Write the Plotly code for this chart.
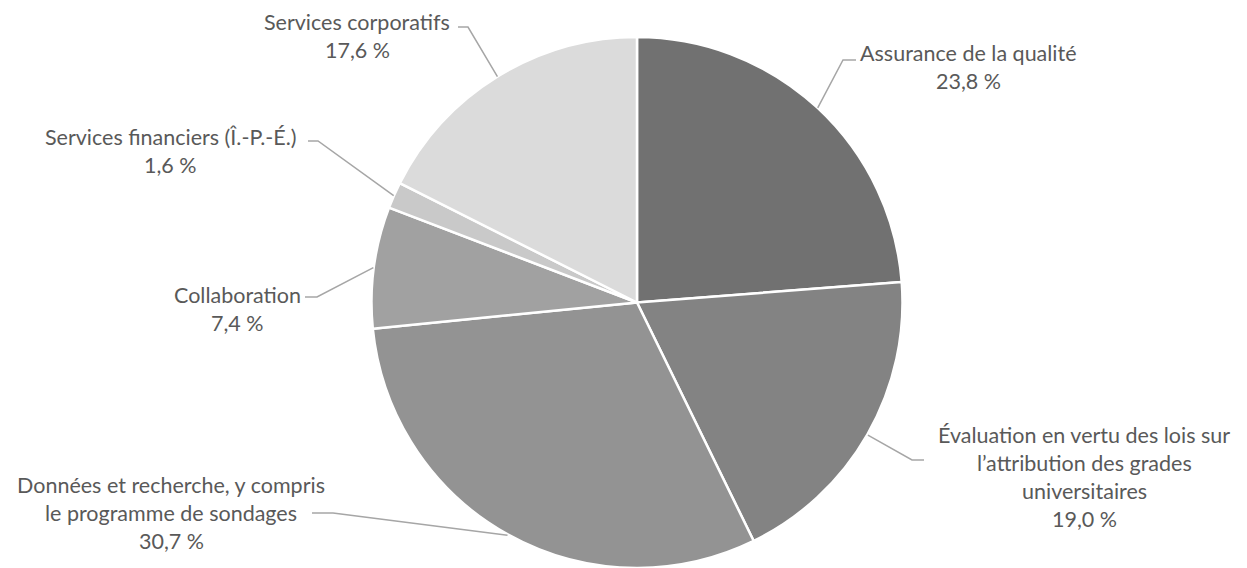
import math
import plotly.graph_objects as go

# ---- data ----
categories = [
    "Assurance de la qualité",
    "Évaluation en vertu des lois sur l’attribution des grades universitaires",
    "Données et recherche, y compris le programme de sondages",
    "Collaboration",
    "Services financiers (Î.-P.-É.)",
    "Services corporatifs",
]
values = [23.8, 19.0, 30.7, 7.4, 1.6, 17.6]
value_labels = ["23,8 %", "19,0 %", "30,7 %", "7,4 %", "1,6 %", "17,6 %"]
label_lines = [
    ["Assurance de la qualité"],
    ["Évaluation en vertu des lois sur", "l’attribution des grades", "universitaires"],
    ["Données et recherche, y compris", "le programme de sondages"],
    ["Collaboration"],
    ["Services financiers (Î.-P.-É.)"],
    ["Services corporatifs"],
]

# ---- styling / layout ----
colors = ["#717171", "#838383", "#939393", "#a1a1a1", "#c9c9c9", "#dbdbdb"]
W, H = 1247, 568
CX, CY, R = 637, 303, 266
TEXT_COLOR = "#595959"
LINE_COLOR = "#a6a6a6"
FONT = "Lato"
FSIZE = 21.5
LINE_H = 28

# label placement (pixels): text center x, first line y, leader elbow, leader end
label_pos = [
    dict(cx=968, y0=53, elbow=(843, 60), end=(856, 60)),
    dict(cx=1084, y0=435, elbow=(912, 460), end=(924, 460)),
    dict(cx=171, y0=485, elbow=(333, 513), end=(312, 513)),
    dict(cx=237, y0=295, elbow=(317, 297), end=(305, 297)),
    dict(cx=170, y0=137, elbow=(318, 141), end=(308, 141)),
    dict(cx=357, y0=22, elbow=(468, 27), end=(458, 27)),
]


def px(x):
    return x / W


def py(y):
    return 1 - y / H


fig = go.Figure(
    go.Pie(
        labels=categories,
        values=values,
        sort=False,
        direction="clockwise",
        rotation=0,
        marker=dict(colors=colors, line=dict(color="white", width=2.5)),
        textinfo="none",
        hoverinfo="label+percent",
        showlegend=False,
        domain=dict(x=[(CX - R) / W, (CX + R) / W], y=[0, (H - (CY - R)) / H]),
    )
)

total = sum(values)
cum = 0
annotations = []
shapes = []
for i, v in enumerate(values):
    mid = (cum + v / 2) / total * 2 * math.pi
    cum += v
    sx = CX + R * math.sin(mid)
    sy = CY - R * math.cos(mid)
    p = label_pos[i]
    (ex, ey), (fx, fy) = p["elbow"], p["end"]
    shapes.append(
        dict(
            type="path",
            xref="paper",
            yref="paper",
            path=f"M {px(sx)} {py(sy)} L {px(ex)} {py(ey)} L {px(fx)} {py(fy)}",
            line=dict(color=LINE_COLOR, width=1.5),
        )
    )
    lines = label_lines[i] + [value_labels[i]]
    for k, t in enumerate(lines):
        annotations.append(
            dict(
                text=t,
                x=px(p["cx"]),
                y=py(p["y0"] + k * LINE_H),
                xref="paper",
                yref="paper",
                xanchor="center",
                yanchor="middle",
                showarrow=False,
                font=dict(family=FONT, size=FSIZE, color=TEXT_COLOR),
            )
        )

fig.update_layout(
    width=W,
    height=H,
    margin=dict(l=0, r=0, t=0, b=0),
    paper_bgcolor="white",
    plot_bgcolor="white",
    annotations=annotations,
    shapes=shapes,
)

fig.write_html("out.html")
